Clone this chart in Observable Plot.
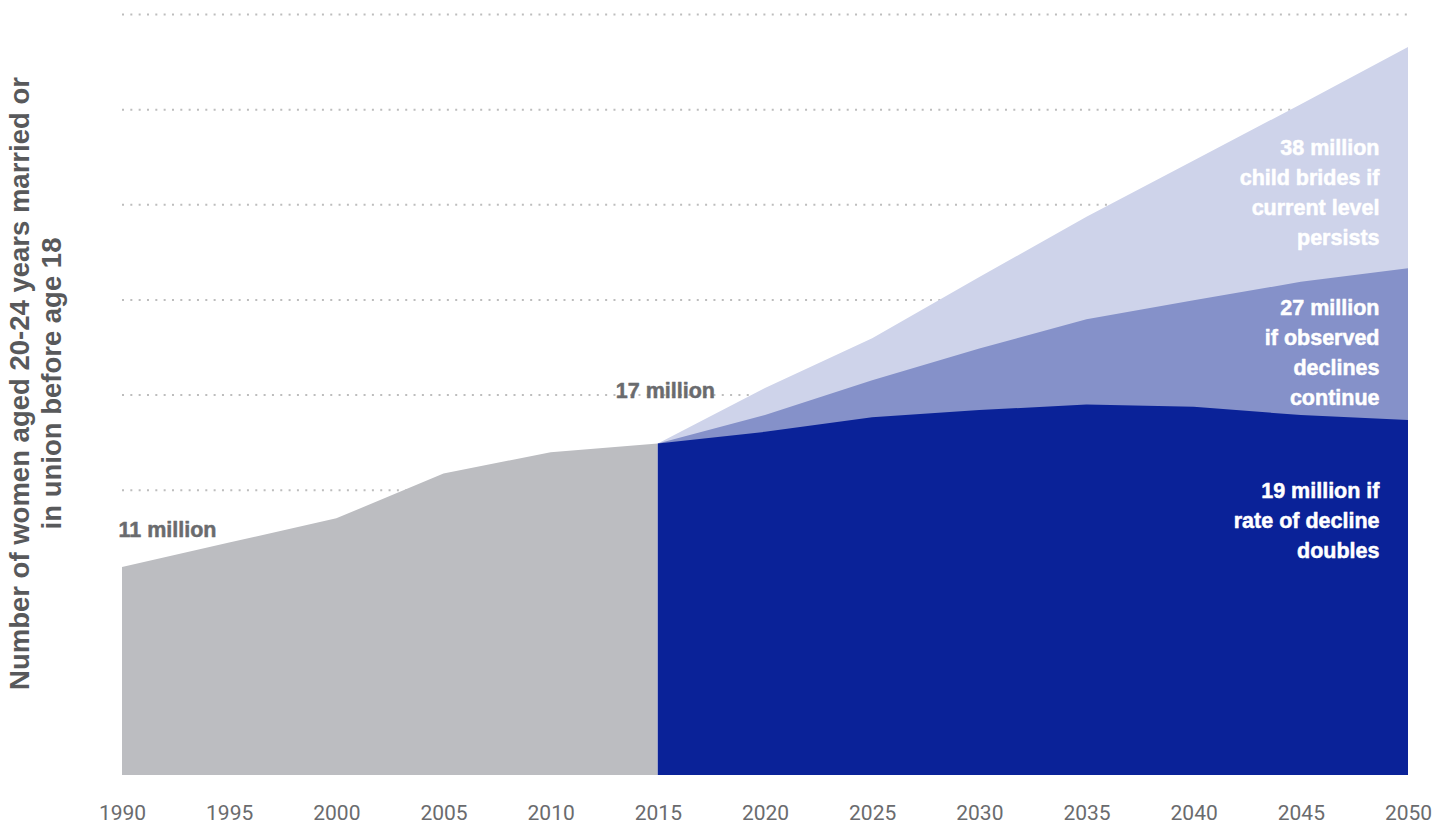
<!DOCTYPE html>
<html>
<head>
<meta charset="utf-8">
<script src="https://cdn.jsdelivr.net/npm/d3@7"></script>
<script src="https://cdn.jsdelivr.net/npm/@observablehq/plot@0.6"></script>
<style>
  html, body { margin: 0; padding: 0; background: #ffffff; }
  #chart { width: 1445px; height: 825px; }
  g[aria-label="annotations"] text { letter-spacing: 1px; }
</style>
</head>
<body>
<div id="chart"></div>
<script>
// ---- data (millions of women aged 20-24 married/in union before 18) ----
const histYears = [1990, 1995, 2000, 2005, 2010, 2015];
const historic = [10.93, 12.22, 13.49, 15.85, 16.96, 17.43];

const projYears = [2015, 2020, 2025, 2030, 2035, 2040, 2045, 2050];
const currentLevel = [17.43, 20.34, 22.96, 26.17, 29.34, 32.30, 35.26, 38.27];
const observedDeclines = [17.43, 18.92, 20.75, 22.42, 23.96, 24.96, 25.92, 26.63];
const rateDoubles = [17.43, 18.04, 18.80, 19.18, 19.48, 19.35, 18.92, 18.66];

const tickYears = [1990, 1995, 2000, 2005, 2010, 2015, 2020, 2025, 2030, 2035, 2040, 2045, 2050];
const gridValues = [5, 10, 15, 20, 25, 30, 35, 40];

const yLabel = "Number of women aged 20-24 years married or\nin union before age 18";

// annotations: text + anchor (year, value)
const startLabel = ["11 million"];
const startYear = [1990];
const startValue = [12.88];

const midLabel = ["17 million"];
const midYear = [2015];
const midValue = [20.18];

const scenarioLabels = [
  "38 million\nchild brides if\ncurrent level\npersists",
  "27 million\nif observed\ndeclines\ncontinue",
  "19 million if\nrate of decline\ndoubles"
];
const scenarioYear = 2050;
const scenarioValues = [30.75, 22.34, 13.51];

const colors = {
  hist: "#bcbdc1",
  current: "#ced3ea",
  observed: "#8591c9",
  doubles: "#0a2298",
  grid: "#bdbdbd",
  muted: "#6a6b6e",
  axisLabel: "#58595b"
};

const hist = histYears.map((x, i) => ({x, y: historic[i]}));
const cur = projYears.map((x, i) => ({x, y: currentLevel[i]}));
const obs = projYears.map((x, i) => ({x, y: observedDeclines[i]}));
const dbl = projYears.map((x, i) => ({x, y: rateDoubles[i]}));

const labelFont = "'Liberation Sans', Arial, sans-serif";

const chart = Plot.plot({
  width: 1445,
  height: 825,
  marginLeft: 122,
  marginRight: 37,
  marginTop: 14,
  marginBottom: 50,
  style: {fontFamily: "Roboto, 'Liberation Sans', sans-serif", background: "#ffffff"},
  x: {domain: [1990, 2050]},
  y: {domain: [0, 40]},
  marks: [
    Plot.ruleY(gridValues, {stroke: colors.grid, strokeWidth: 2, strokeDasharray: "2 6.33"}),
    Plot.areaY(hist, {x: "x", y: "y", fill: colors.hist}),
    Plot.areaY(cur, {x: "x", y: "y", fill: colors.current}),
    Plot.areaY(obs, {x: "x", y: "y", fill: colors.observed}),
    Plot.areaY(dbl, {x: "x", y: "y", fill: colors.doubles}),
    Plot.axisX(tickYears, {
      tickSize: 0, tickPadding: 30, tickFormat: "d",
      fontSize: 21, fill: colors.muted, label: null
    }),
    Plot.axisY({ticks: [], label: null}),
    Plot.text(startLabel, {
      x: (d, i) => startYear[i], y: (d, i) => startValue[i], text: d => d,
      textAnchor: "start", dx: -4, fontSize: 21.5, fontWeight: "bold",
      fontFamily: labelFont, fill: colors.muted, stroke: colors.muted, strokeWidth: 0.5,
      ariaLabel: "annotations"
    }),
    Plot.text(midLabel, {
      x: (d, i) => midYear[i], y: (d, i) => midValue[i], text: d => d,
      textAnchor: "middle", dx: 7, fontSize: 21.5, fontWeight: "bold",
      fontFamily: labelFont, fill: colors.muted, stroke: colors.muted, strokeWidth: 0.5,
      ariaLabel: "annotations"
    }),
    Plot.text(scenarioLabels, {
      x: () => scenarioYear, y: (d, i) => scenarioValues[i], text: d => d,
      textAnchor: "end", dx: -29, fontSize: 21.5, fontWeight: "bold",
      fontFamily: labelFont, fill: "#ffffff", stroke: "#ffffff", strokeWidth: 0.5,
      lineHeight: 1.4, ariaLabel: "annotations"
    }),
    Plot.text([yLabel], {
      frameAnchor: "left", text: d => d, rotate: -90,
      textAnchor: "middle", dx: -87.5, dy: -11.5, fontSize: 27.5, fontWeight: "bold",
      fontFamily: labelFont, fill: colors.axisLabel, lineHeight: 1.15
    })
  ]
});

document.getElementById("chart").appendChild(chart);
</script>
</body>
</html>
